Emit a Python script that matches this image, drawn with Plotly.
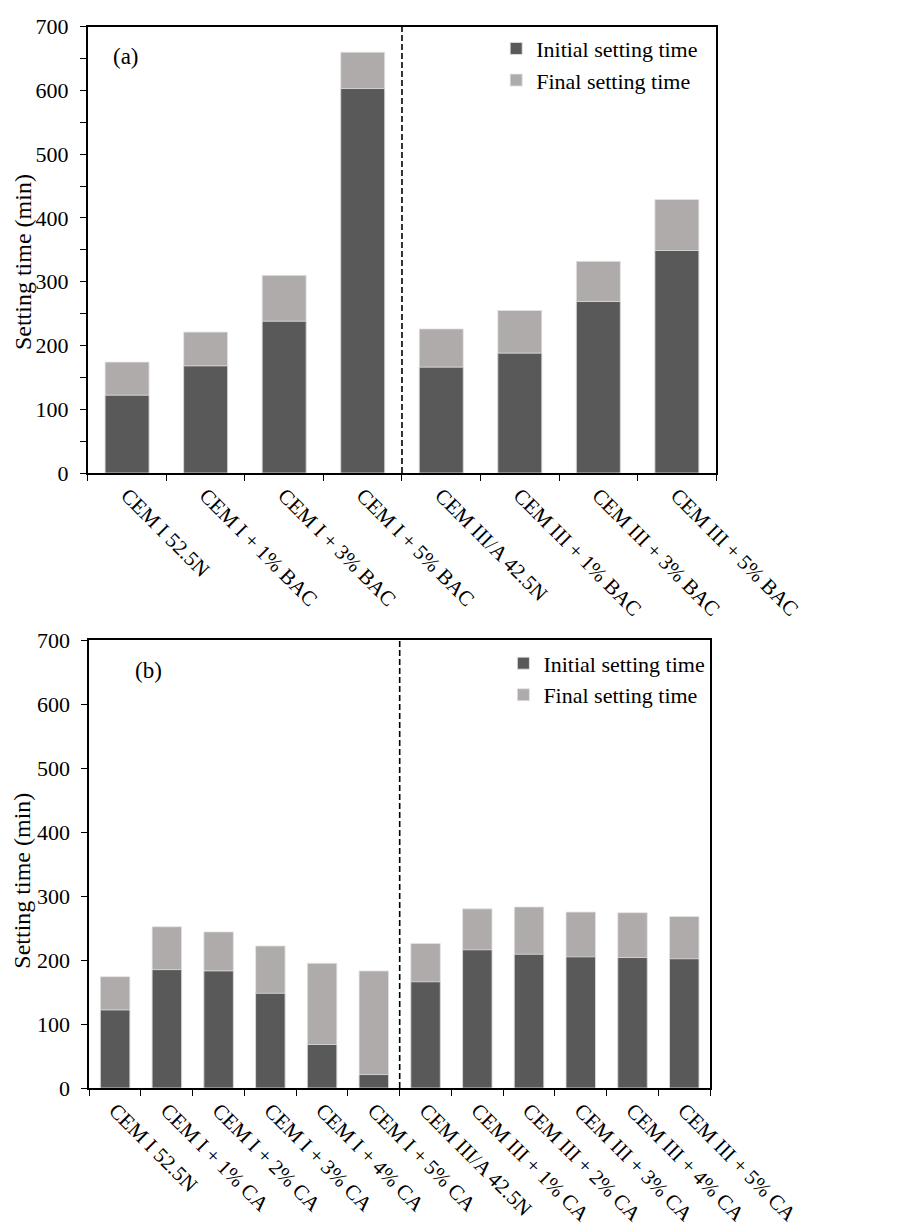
import plotly.graph_objects as go

# Panel (a): bacteria (BAC) additions
cats_a = ["CEM I 52.5N", "CEM I + 1% BAC", "CEM I + 3% BAC", "CEM I + 5% BAC",
          "CEM III/A 42.5N", "CEM III + 1% BAC", "CEM III + 3% BAC", "CEM III + 5% BAC"]
initial_a = [122, 168, 238, 603, 166, 188, 269, 349]
final_a = [174, 221, 310, 660, 226, 255, 332, 429]

# Panel (b): CA additions
cats_b = ["CEM I 52.5N", "CEM I + 1% CA", "CEM I + 2% CA", "CEM I + 3% CA",
          "CEM I + 4% CA", "CEM I + 5% CA", "CEM III/A 42.5N", "CEM III + 1% CA",
          "CEM III + 2% CA", "CEM III + 3% CA", "CEM III + 4% CA", "CEM III + 5% CA"]
initial_b = [122, 185, 183, 148, 68, 21, 166, 216, 209, 205, 204, 202]
final_b = [174, 252, 244, 222, 195, 183, 226, 280, 283, 275, 274, 268]

y_ticks = [0, 100, 200, 300, 400, 500, 600, 700]

DARK = "#595959"
LIGHT = "#AFABAB"
EDGE = "#e4e4e4"
FONT = "Liberation Serif"

W, H = 900, 1227

fig = go.Figure()

# Final time drawn behind, initial time in front (overlay)
fig.add_trace(go.Bar(x=cats_a, y=final_a, name="Final setting time", marker=dict(color=LIGHT, line=dict(color=EDGE, width=0.8)),
                     width=0.56, xaxis="x", yaxis="y", legend="legend", legendrank=2))
fig.add_trace(go.Bar(x=cats_a, y=initial_a, name="Initial setting time", marker=dict(color=DARK, line=dict(color=EDGE, width=0.8)),
                     width=0.56, xaxis="x", yaxis="y", legend="legend", legendrank=1))
fig.add_trace(go.Bar(x=cats_b, y=final_b, name="Final setting time", marker=dict(color=LIGHT, line=dict(color=EDGE, width=0.8)),
                     width=0.57, xaxis="x2", yaxis="y2", legend="legend2", legendrank=2))
fig.add_trace(go.Bar(x=cats_b, y=initial_b, name="Initial setting time", marker=dict(color=DARK, line=dict(color=EDGE, width=0.8)),
                     width=0.57, xaxis="x2", yaxis="y2", legend="legend2", legendrank=1))

def px_x(p):
    return p / W

def px_y(p):
    return 1 - p / H

axis_common = dict(showline=True, linecolor="black", linewidth=1.6, mirror=True,
                   ticks="outside", tickcolor="black", ticklen=6, tickwidth=1.4,
                   showgrid=False, zeroline=False)

xa = dict(axis_common, type="category", tickson="boundaries", tickangle=45,
          tickfont=dict(family=FONT, size=21, color="black"))
ya = dict(axis_common, range=[0, 700], tickvals=y_ticks, ticklabelstandoff=7,
          tickfont=dict(family=FONT, size=22, color="black"))

fig.update_layout(
    width=W, height=H,
    margin=dict(l=0, r=0, t=0, b=0),
    paper_bgcolor="white", plot_bgcolor="white",
    barmode="overlay",
    xaxis=dict(xa, domain=[px_x(97.7), px_x(796.7)], anchor="y"),
    yaxis=dict(ya, domain=[px_y(471), px_y(15)], anchor="x",
               minor=dict(dtick=50, ticks="outside", ticklen=6, tickcolor="black", tickwidth=1.4)),
    xaxis2=dict(xa, domain=[px_x(99.3), px_x(790)], anchor="y2"),
    yaxis2=dict(ya, domain=[px_y(1099.3), px_y(641.7)], anchor="x2"),
    legend=dict(x=px_x(552), y=px_y(16), xanchor="left", yanchor="top",
                font=dict(family=FONT, size=22, color="black"), bgcolor="rgba(0,0,0,0)",
                itemwidth=30, tracegroupgap=0),
    legend2=dict(x=px_x(560), y=px_y(644), xanchor="left", yanchor="top",
                 font=dict(family=FONT, size=22, color="black"), bgcolor="rgba(0,0,0,0)",
                 itemwidth=30, tracegroupgap=0),
    showlegend=True,
    font=dict(family=FONT, color="black"),
)

# Dashed separators between CEM I and CEM III groups
fig.add_shape(type="line", xref="x", yref="y", x0=3.5, x1=3.5, y0=0, y1=700,
              line=dict(color="black", width=1.6, dash="6px,3px"))
fig.add_shape(type="line", xref="x2", yref="y2", x0=5.5, x1=5.5, y0=0, y1=700,
              line=dict(color="black", width=1.6, dash="6px,3px"))

# Panel labels and axis titles
fig.add_annotation(text="(a)", xref="paper", yref="paper", x=px_x(124), y=px_y(45),
                   xanchor="left", yanchor="middle", showarrow=False,
                   font=dict(family=FONT, size=23, color="black"))
fig.add_annotation(text="(b)", xref="paper", yref="paper", x=px_x(148), y=px_y(673),
                   xanchor="left", yanchor="middle", showarrow=False,
                   font=dict(family=FONT, size=23, color="black"))
for yc in (255, 887):
    fig.add_annotation(text="Setting time (min)", xref="paper", yref="paper",
                       x=px_x(25), y=px_y(yc), textangle=-90, showarrow=False,
                       xanchor="center", yanchor="middle",
                       font=dict(family=FONT, size=24, color="black"))

fig.write_html("out.html")
